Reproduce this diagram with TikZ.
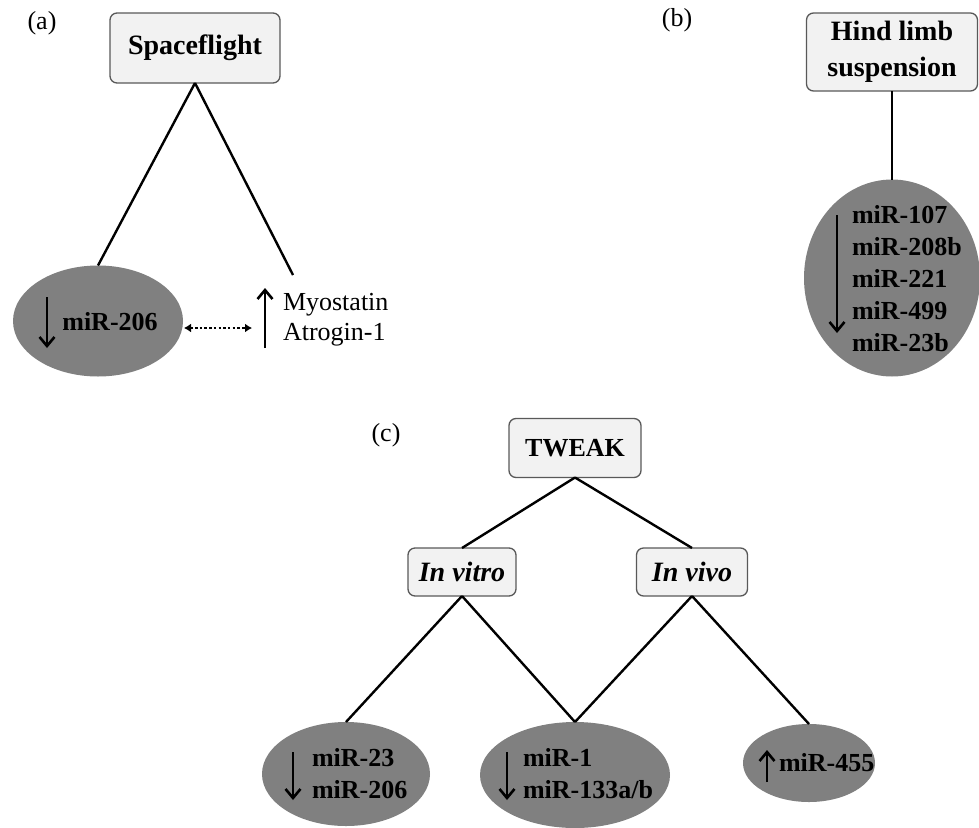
\documentclass[tikz,border=0pt]{standalone}
\usepackage{fontspec}
\setmainfont{Liberation Serif}
\usetikzlibrary{shapes.geometric,arrows.meta}
\begin{document}
\begin{tikzpicture}[x=1pt,y=-1pt,
  every node/.style={inner sep=0pt, outer sep=0pt},
  txt/.style={font=\fontsize{26}{30}\selectfont},
  btxt/.style={font=\fontsize{26}{32}\selectfont\bfseries, align=left},
  box/.style={draw=black!65, fill=black!5, rounded corners=7pt, line width=1.3pt,
    font=\fontsize{28}{36}\selectfont\bfseries, align=center},
  blob/.style={ellipse, fill=black!50, draw=none},
  conn/.style={line width=2.4pt},
  updown/.style={line width=2.6pt, -{Straight Barb[length=9pt,width=15pt]}},
  dotarrow/.style={line width=2.6pt, dash pattern=on 2.5pt off 2.2pt,
    {Latex[length=7pt,width=9pt]}-{Latex[length=7pt,width=9pt]}}
]
\useasboundingbox (0,0) rectangle (979,827);

% ---------- (a) ----------
\node[txt] (la) at (42,23) {(a)};
\node[box, minimum width=170, minimum height=70] (sf) at (195,48) {Spaceflight};
\node[blob, minimum width=170, minimum height=111] (e1) at (98,321) {};
\node[btxt] (t1) at (110,322) {miR-206};
\coordinate (a1s) at (47,297);
\coordinate (a1e) at (47,348);
\draw[updown] (a1s) -- (a1e);
\node[txt, anchor=west, align=left] (myo) at (283,320) {Myostatin\\Atrogin-1};
\coordinate (myotop) at (293,275);
\coordinate (u1s) at (265,348);
\coordinate (u1e) at (265,288);
\draw[updown] (u1s) -- (u1e);
\coordinate (d1) at (184,328);
\coordinate (d2) at (252,328);
\draw[dotarrow] (d1) -- (d2);
\draw[conn] (sf.south) -- (e1.north);
\draw[conn] (sf.south) -- (myotop);

% ---------- (b) ----------
\node[txt] (lb) at (677,20) {(b)};
\node[box, minimum width=171, minimum height=78] (hb) at (892,52) {Hind limb\\suspension};
\node[blob, minimum width=176, minimum height=197] (hl) at (892,278) {};
\node[btxt, anchor=west] (hlt) at (852,279) {miR-107\\miR-208b\\miR-221\\miR-499\\miR-23b};
\coordinate (a2s) at (837,215);
\coordinate (a2e) at (837,333);
\draw[updown] (a2s) -- (a2e);
\draw[conn] (hb.south) -- (hl.north);

% ---------- (c) ----------
\node[txt] (lc) at (386,435) {(c)};
\node[box, minimum width=132, minimum height=59, font=\fontsize{26}{30}\selectfont\bfseries] (tw) at (575,448) {TWEAK};
\node[box, minimum width=108, minimum height=48, font=\fontsize{28}{30}\selectfont\bfseries\itshape] (vt) at (462,572) {In vitro};
\node[box, minimum width=111, minimum height=48, font=\fontsize{28}{30}\selectfont\bfseries\itshape] (vv) at (692,572) {In vivo};
\node[blob, minimum width=168, minimum height=104] (c1) at (346,774) {};
\node[blob, minimum width=190, minimum height=106] (c2) at (575,775) {};
\node[blob, minimum width=132, minimum height=78] (c3) at (809,763) {};
\node[btxt, anchor=west] (c1t) at (312,774) {miR-23\\miR-206};
\node[btxt, anchor=west] (c2t) at (523,774) {miR-1\\miR-133a/b};
\node[btxt, anchor=west] (c3t) at (779,763) {miR-455};
\coordinate (a3s) at (293,752);
\coordinate (a3e) at (293,800);
\draw[updown] (a3s) -- (a3e);
\coordinate (a4s) at (507,752);
\coordinate (a4e) at (507,800);
\draw[updown] (a4s) -- (a4e);
\coordinate (a5s) at (767,782);
\coordinate (a5e) at (767,750);
\draw[updown] (a5s) -- (a5e);
\draw[conn] (tw.south) -- (vt.north);
\draw[conn] (tw.south) -- (vv.north);
\draw[conn] (vt.south) -- (c1.north);
\draw[conn] (vt.south) -- (c2.north);
\draw[conn] (vv.south) -- (c2.north);
\draw[conn] (vv.south) -- (c3.north);
\end{tikzpicture}
\end{document}
